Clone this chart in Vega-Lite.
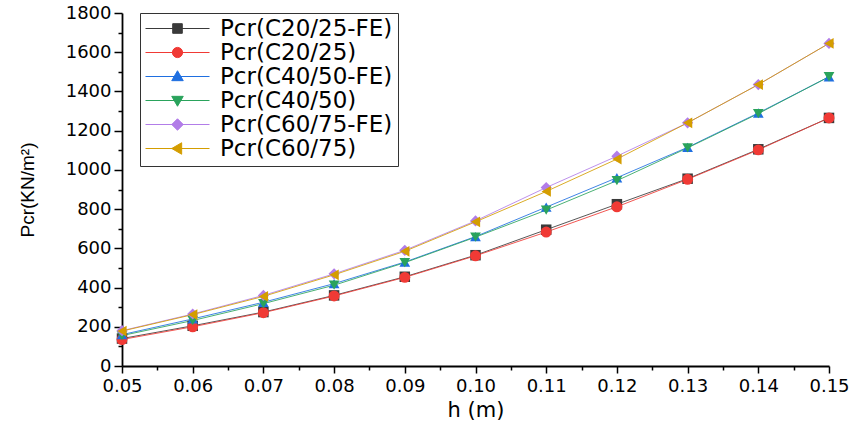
{
  "$schema": "https://vega.github.io/schema/vega-lite/v6.json",
  "width": 707,
  "height": 353,
  "autosize": "none",
  "padding": {"left": 122, "top": 13, "right": 25, "bottom": 58},
  "background": "white",
  "config": {
    "view": {"stroke": null},
    "font": "DejaVu Sans",
    "axis": {"grid": false, "domainColor": "black", "tickColor": "black", "labelColor": "black", "titleColor": "black", "labelFont": "DejaVu Sans", "titleFont": "DejaVu Sans", "titleFontWeight": "normal"},
    "legend": {
      "orient": "none", "legendX": 18, "legendY": 0,
      "strokeColor": "#333333", "padding": 5, "fillColor": "white",
      "symbolSize": 4096, "symbolStrokeWidth": 1, "symbolOpacity": 1, "labelOffset": 10,
      "labelFont": "DejaVu Sans", "labelFontSize": 23, "labelColor": "black", "rowPadding": 0, "clipHeight": 21,
      "labelLimit": 400
    }
  },
  "data": {
    "values": [
      {"h": 0.05, "P": 140, "series": "Pcr(C20/25-FE)"},
      {"h": 0.06, "P": 205, "series": "Pcr(C20/25-FE)"},
      {"h": 0.07, "P": 275, "series": "Pcr(C20/25-FE)"},
      {"h": 0.08, "P": 360, "series": "Pcr(C20/25-FE)"},
      {"h": 0.09, "P": 455, "series": "Pcr(C20/25-FE)"},
      {"h": 0.10, "P": 565, "series": "Pcr(C20/25-FE)"},
      {"h": 0.11, "P": 695, "series": "Pcr(C20/25-FE)"},
      {"h": 0.12, "P": 825, "series": "Pcr(C20/25-FE)"},
      {"h": 0.13, "P": 955, "series": "Pcr(C20/25-FE)"},
      {"h": 0.14, "P": 1105, "series": "Pcr(C20/25-FE)"},
      {"h": 0.15, "P": 1265, "series": "Pcr(C20/25-FE)"},
      {"h": 0.05, "P": 135, "series": "Pcr(C20/25)"},
      {"h": 0.06, "P": 200, "series": "Pcr(C20/25)"},
      {"h": 0.07, "P": 272, "series": "Pcr(C20/25)"},
      {"h": 0.08, "P": 357, "series": "Pcr(C20/25)"},
      {"h": 0.09, "P": 452, "series": "Pcr(C20/25)"},
      {"h": 0.10, "P": 562, "series": "Pcr(C20/25)"},
      {"h": 0.11, "P": 683, "series": "Pcr(C20/25)"},
      {"h": 0.12, "P": 812, "series": "Pcr(C20/25)"},
      {"h": 0.13, "P": 952, "series": "Pcr(C20/25)"},
      {"h": 0.14, "P": 1102, "series": "Pcr(C20/25)"},
      {"h": 0.15, "P": 1265, "series": "Pcr(C20/25)"},
      {"h": 0.05, "P": 160, "series": "Pcr(C40/50-FE)"},
      {"h": 0.06, "P": 240, "series": "Pcr(C40/50-FE)"},
      {"h": 0.07, "P": 325, "series": "Pcr(C40/50-FE)"},
      {"h": 0.08, "P": 420, "series": "Pcr(C40/50-FE)"},
      {"h": 0.09, "P": 530, "series": "Pcr(C40/50-FE)"},
      {"h": 0.10, "P": 660, "series": "Pcr(C40/50-FE)"},
      {"h": 0.11, "P": 810, "series": "Pcr(C40/50-FE)"},
      {"h": 0.12, "P": 960, "series": "Pcr(C40/50-FE)"},
      {"h": 0.13, "P": 1115, "series": "Pcr(C40/50-FE)"},
      {"h": 0.14, "P": 1290, "series": "Pcr(C40/50-FE)"},
      {"h": 0.15, "P": 1475, "series": "Pcr(C40/50-FE)"},
      {"h": 0.05, "P": 155, "series": "Pcr(C40/50)"},
      {"h": 0.06, "P": 232, "series": "Pcr(C40/50)"},
      {"h": 0.07, "P": 318, "series": "Pcr(C40/50)"},
      {"h": 0.08, "P": 412, "series": "Pcr(C40/50)"},
      {"h": 0.09, "P": 527, "series": "Pcr(C40/50)"},
      {"h": 0.10, "P": 657, "series": "Pcr(C40/50)"},
      {"h": 0.11, "P": 795, "series": "Pcr(C40/50)"},
      {"h": 0.12, "P": 945, "series": "Pcr(C40/50)"},
      {"h": 0.13, "P": 1112, "series": "Pcr(C40/50)"},
      {"h": 0.14, "P": 1287, "series": "Pcr(C40/50)"},
      {"h": 0.15, "P": 1475, "series": "Pcr(C40/50)"},
      {"h": 0.05, "P": 180, "series": "Pcr(C60/75-FE)"},
      {"h": 0.06, "P": 265, "series": "Pcr(C60/75-FE)"},
      {"h": 0.07, "P": 360, "series": "Pcr(C60/75-FE)"},
      {"h": 0.08, "P": 470, "series": "Pcr(C60/75-FE)"},
      {"h": 0.09, "P": 590, "series": "Pcr(C60/75-FE)"},
      {"h": 0.10, "P": 740, "series": "Pcr(C60/75-FE)"},
      {"h": 0.11, "P": 910, "series": "Pcr(C60/75-FE)"},
      {"h": 0.12, "P": 1070, "series": "Pcr(C60/75-FE)"},
      {"h": 0.13, "P": 1240, "series": "Pcr(C60/75-FE)"},
      {"h": 0.14, "P": 1435, "series": "Pcr(C60/75-FE)"},
      {"h": 0.15, "P": 1645, "series": "Pcr(C60/75-FE)"},
      {"h": 0.05, "P": 178, "series": "Pcr(C60/75)"},
      {"h": 0.06, "P": 262, "series": "Pcr(C60/75)"},
      {"h": 0.07, "P": 355, "series": "Pcr(C60/75)"},
      {"h": 0.08, "P": 465, "series": "Pcr(C60/75)"},
      {"h": 0.09, "P": 585, "series": "Pcr(C60/75)"},
      {"h": 0.10, "P": 735, "series": "Pcr(C60/75)"},
      {"h": 0.11, "P": 890, "series": "Pcr(C60/75)"},
      {"h": 0.12, "P": 1055, "series": "Pcr(C60/75)"},
      {"h": 0.13, "P": 1240, "series": "Pcr(C60/75)"},
      {"h": 0.14, "P": 1435, "series": "Pcr(C60/75)"},
      {"h": 0.15, "P": 1645, "series": "Pcr(C60/75)"}
    ]
  },
  "encoding": {
    "x": {"field": "h", "type": "quantitative", "scale": {"domain": [0.05, 0.15], "nice": false, "zero": false},
      "axis": {"values": [0.05, 0.055, 0.06, 0.065, 0.07, 0.075, 0.08, 0.085, 0.09, 0.095, 0.10, 0.105, 0.11, 0.115, 0.12, 0.125, 0.13, 0.135, 0.14, 0.145, 0.15],
        "format": ".2f",
        "labelExpr": "abs(datum.value * 100 - round(datum.value * 100)) < 0.01 ? datum.label : ''",
        "tickSize": {"condition": {"test": "abs(datum.value * 100 - round(datum.value * 100)) < 0.01", "value": 7}, "value": 4},
        "tickWidth": 1.5, "domainWidth": 1.8, "labelFontSize": 18, "labelPadding": 4, "labelFlush": false, "labelOverlap": false,
        "title": "h (m)", "titleFontSize": 21, "titlePadding": 4}},
    "y": {"field": "P", "type": "quantitative", "scale": {"domain": [0, 1800], "nice": false},
      "axis": {"values": [0, 100, 200, 300, 400, 500, 600, 700, 800, 900, 1000, 1100, 1200, 1300, 1400, 1500, 1600, 1700, 1800],
        "format": "d",
        "labelExpr": "datum.value % 200 === 0 ? datum.label : ''",
        "tickSize": {"condition": {"test": "datum.value % 200 === 0", "value": 8}, "value": 4},
        "tickWidth": 1.5, "domainWidth": 1.8, "labelFontSize": 18, "labelPadding": 3, "labelOverlap": false,
        "title": "Pcr(KN/m²)", "titleFont": "Liberation Sans", "titleFontSize": 19, "titlePadding": 28}},
    "color": {"field": "series", "type": "nominal",
      "scale": {"domain": ["Pcr(C20/25-FE)", "Pcr(C20/25)", "Pcr(C40/50-FE)", "Pcr(C40/50)", "Pcr(C60/75-FE)", "Pcr(C60/75)"],
                "range": ["#3a3a3a", "#f03a35", "#1f6fe0", "#2aa35c", "#b27de8", "#d49d00"]},
      "legend": {"title": null}}
  },
  "layer": [
    {
      "mark": {"type": "point", "filled": true, "size": 0, "opacity": 0},
      "encoding": {
        "shape": {"field": "series", "type": "nominal", "legend": {"title": null},
          "scale": {"domain": ["Pcr(C20/25-FE)", "Pcr(C20/25)", "Pcr(C40/50-FE)", "Pcr(C40/50)", "Pcr(C60/75-FE)", "Pcr(C60/75)"],
                    "range": [
                      "M-1,0H1M-0.15,-0.15H0.15V0.15H-0.15Z",
                      "M-1,0H1M-0.16,0A0.16,0.16 0 1,0 0.16,0A0.16,0.16 0 1,0 -0.16,0Z",
                      "M-1,0H1M0,-0.18L0.18,0.13L-0.18,0.13Z",
                      "M-1,0H1M0,0.18L0.18,-0.13L-0.18,-0.13Z",
                      "M-1,0H1M0,-0.18L0.18,0L0,0.18L-0.18,0Z",
                      "M-1,0H1M-0.18,0L0.13,-0.18L0.13,0.18Z"]}}
      }
    },
    {"mark": {"type": "line", "strokeWidth": 1, "opacity": 0.85}},
    {"transform": [{"filter": "datum.series === 'Pcr(C20/25-FE)'"}], "mark": {"type": "point", "shape": "square", "filled": true, "opacity": 1, "size": 110}},
    {"transform": [{"filter": "datum.series === 'Pcr(C20/25)'"}], "mark": {"type": "point", "shape": "circle", "filled": true, "opacity": 1, "size": 120}},
    {"transform": [{"filter": "datum.series === 'Pcr(C40/50-FE)'"}], "mark": {"type": "point", "shape": "triangle-up", "filled": true, "opacity": 1, "size": 115}},
    {"transform": [{"filter": "datum.series === 'Pcr(C40/50)'"}], "mark": {"type": "point", "shape": "triangle-down", "filled": true, "opacity": 1, "size": 115}},
    {"transform": [{"filter": "datum.series === 'Pcr(C60/75-FE)'"}], "mark": {"type": "point", "shape": "diamond", "filled": true, "opacity": 1, "size": 125}},
    {"transform": [{"filter": "datum.series === 'Pcr(C60/75)'"}], "mark": {"type": "point", "shape": "triangle-left", "filled": true, "opacity": 1, "size": 115}}
  ]
}
